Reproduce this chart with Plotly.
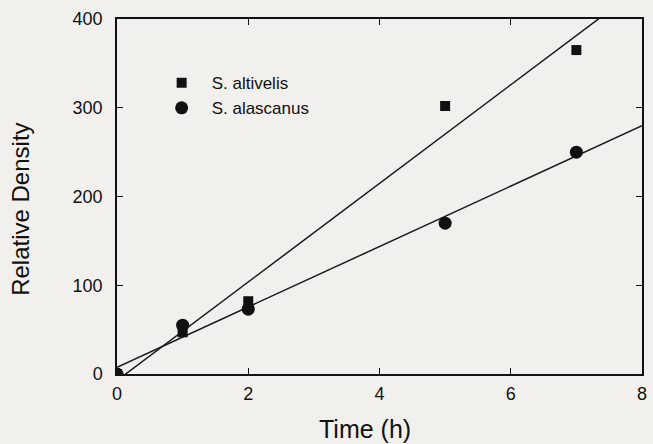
import numpy as np
import plotly.graph_objects as go

time_h = [0, 1, 2, 5, 7]
altivelis = [0, 47, 82, 302, 365]
alascanus = [0, 55, 73, 170, 250]
x_ticks = [0, 2, 4, 6, 8]
y_ticks = [0, 100, 200, 300, 400]

fit_x = np.array([0, 8])
a1, b1 = np.polyfit(time_h, altivelis, 1)
a2, b2 = np.polyfit(time_h, alascanus, 1)

fig = go.Figure()
fig.add_trace(go.Scatter(x=fit_x, y=a1 * fit_x + b1, mode="lines",
                         line=dict(color="#1a1a1a", width=1.5), showlegend=False))
fig.add_trace(go.Scatter(x=fit_x, y=a2 * fit_x + b2, mode="lines",
                         line=dict(color="#1a1a1a", width=1.5), showlegend=False))
fig.add_trace(go.Scatter(x=time_h, y=altivelis, mode="markers", name="S. altivelis",
                         marker=dict(symbol="square", size=10, color="#111")))
fig.add_trace(go.Scatter(x=time_h, y=alascanus, mode="markers", name="S. alascanus",
                         marker=dict(symbol="circle", size=13, color="#111")))

bg = "#f2f0ed"
fig.update_layout(
    width=653, height=444,
    margin=dict(l=117, r=6, t=19, b=70),
    paper_bgcolor=bg, plot_bgcolor=bg,
    font=dict(family="Liberation Sans, Arial, sans-serif", color="#111", size=18),
    legend=dict(x=0.066, y=0.87, xanchor="left", yanchor="top",
                bgcolor="rgba(0,0,0,0)", font=dict(size=17),
                itemwidth=50, tracegroupgap=0),
    showlegend=True,
    annotations=[
        dict(text="Time (h)", xref="paper", yref="paper", x=0.472, y=-0.11,
             xanchor="center", yanchor="top", showarrow=False, font=dict(size=25)),
        dict(text="Relative Density", xref="paper", yref="paper", x=-0.183, y=0.465,
             xanchor="center", yanchor="middle", textangle=-90, showarrow=False,
             font=dict(size=24)),
    ],
)
fig.update_xaxes(range=[0, 8], tickvals=x_ticks, ticks="inside", ticklen=6,
                 showline=True, linecolor="#111", linewidth=1.5, mirror="allticks",
                 showgrid=False, zeroline=False, tickcolor="#111", ticklabelstandoff=3)
fig.update_yaxes(range=[0, 400], tickvals=y_ticks, ticks="inside", ticklen=6,
                 showline=True, linecolor="#111", linewidth=1.5, mirror="allticks",
                 showgrid=False, zeroline=False, tickcolor="#111", ticklabelstandoff=9)
fig.write_html("out.html")
